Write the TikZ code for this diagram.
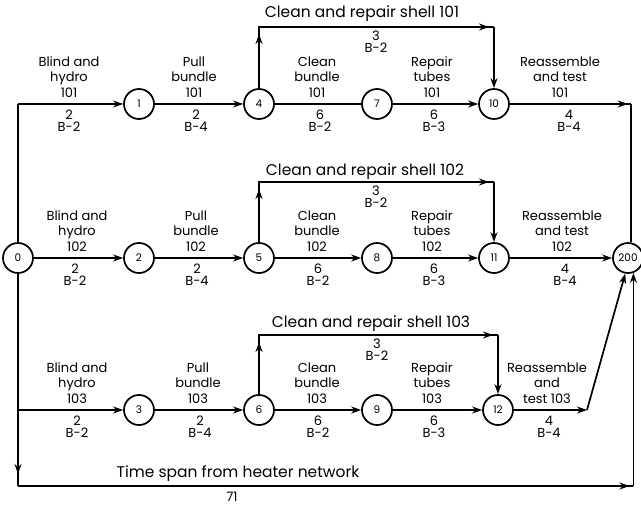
\documentclass[tikz,border=0pt]{standalone}
\usepackage{fontspec}
\setmainfont{Poppins}
\usetikzlibrary{arrows.meta}
\begin{document}
\begin{tikzpicture}[x=1pt,y=-1pt,
  line width=1.7pt,
  ev/.style={circle,draw,fill=white,minimum size=30pt,inner sep=0pt,font=\fontsize{10.5}{10.5}\selectfont},
  arr/.style={-{Stealth[length=10pt,width=7pt]}},
  up/.style={anchor=south,align=center,inner sep=0pt,text depth=0pt,font=\fontsize{13}{15.5}\selectfont},
  dn/.style={anchor=north,align=center,inner sep=0pt,font=\fontsize{13}{12.5}\selectfont},
  ttl/.style={anchor=base,inner sep=0pt,font=\fontsize{15.5}{16}\selectfont},
  ]
\useasboundingbox (0,0) rectangle (641,505);
% events
\node[ev] (n0) at (18,258) {0};
\node[ev] (n1) at (139,104) {1};
\node[ev] (n2) at (139,258) {2};
\node[ev] (n3) at (139,410) {3};
\node[ev] (n4) at (259,104) {4};
\node[ev] (n5) at (259,258) {5};
\node[ev] (n6) at (259,410) {6};
\node[ev] (n7) at (377,104) {7};
\node[ev] (n8) at (377,258) {8};
\node[ev] (n9) at (377,410) {9};
\node[ev] (n10) at (494,104) {10};
\node[ev] (n11) at (494,258) {11};
\node[ev] (n12) at (498,410) {12};
\node[ev] (n200) at (628,258) {200};
% helper coordinates
\coordinate (c1) at (18,104);
\coordinate (c3) at (18,410);
\coordinate (cb1) at (18,486);
\coordinate (cb2) at (n200.-70 |- cb1);
\coordinate (r1) at (n200.80 |- n10);
\coordinate (r3) at (587,410);
\coordinate (a4) at (259,27);
\coordinate (b10) at (494,27);
\coordinate (a5) at (259,182);
\coordinate (b11) at (494,182);
\coordinate (a6) at (259,335);
\coordinate (b12) at (498,335);
% left trunk
\draw (n0) -- (c1);
\draw[arr] (c1) -- (n1);
\draw[arr] (n0) -- (n2);
\draw (n0) -- (cb1);
\draw[arr] (c3) -- (n3);
\draw[arr,shorten >=12pt] (n0) -- (cb1);
\draw (cb1) -- (cb2);
\draw[arr,shorten >=4pt] (cb1) -- (cb2);
\draw[arr] (cb2) -- (n200.-70);
% row 1
\draw[arr] (n1) -- (n4);
\draw (n4) -- (n7);
\draw[arr] (n7) -- (n10);
\draw (n10) -- (r1);
\draw[arr,shorten >=3pt] (n10) -- (r1);
\draw (r1) -- (n200.80);
\draw (n4) -- (a4) -- (b10);
\draw[arr,shorten >=7pt] (n4) -- (a4);
\draw[arr,shorten >=5pt] (a4) -- (b10);
\draw[arr] (b10) -- (n10);
% row 2
\draw[arr] (n2) -- (n5);
\draw[arr] (n5) -- (n8);
\draw[arr] (n8) -- (n11);
\draw[arr] (n11) -- (n200);
\draw (n5) -- (a5) -- (b11);
\draw[arr,shorten >=7pt] (n5) -- (a5);
\draw[arr,shorten >=5pt] (a5) -- (b11);
\draw[arr] (b11) -- (n11);
% row 3
\draw[arr] (n3) -- (n6);
\draw[arr] (n6) -- (n9);
\draw[arr] (n9) -- (n12);
\draw[arr] (n12) -- (r3);
\draw[arr] (r3) -- (n200.-100);
\draw (n6) -- (a6) -- (b12);
\draw[arr,shorten >=7pt] (n6) -- (a6);
\draw[arr,shorten >=5pt] (a6) -- (b12);
\draw[arr] (b12) -- (n12);
% labels row 1
\node[up] (u01) at (69,98) {Blind and\\hydro\\101};
\node[dn] (d01) at (69,109) {2\\B-2};
\node[up] (u14) at (194,98) {Pull\\bundle\\101};
\node[dn] (d14) at (196,109) {2\\B-4};
\node[up] (u47) at (317,98) {Clean\\bundle\\101};
\node[dn] (d47) at (320,109) {6\\B-2};
\node[up] (u710) at (432,98) {Repair\\tubes\\101};
\node[dn] (d710) at (434,109) {6\\B-3};
\node[up] (u10) at (560,98) {Reassemble\\and test\\101};
\node[dn] (d10) at (569,109) {4\\B-4};
\node[ttl] (s1) at (362,17.5) {Clean and repair shell 101};
\node[dn] (t1) at (376,30) {3\\B-2};
% labels row 2
\node[up] (u02) at (77,252) {Blind and\\hydro\\102};
\node[dn] (d02) at (75,263) {2\\B-2};
\node[up] (u25) at (196,252) {Pull\\bundle\\102};
\node[dn] (d25) at (197,263) {2\\B-4};
\node[up] (u58) at (317,252) {Clean\\bundle\\102};
\node[dn] (d58) at (318,263) {6\\B-2};
\node[up] (u811) at (432,252) {Repair\\tubes\\102};
\node[dn] (d811) at (434,263) {6\\B-3};
\node[up] (u11) at (562,252) {Reassemble\\and test\\102};
\node[dn] (d11) at (565,263) {4\\B-4};
\node[ttl] (s2) at (365,175.5) {Clean and repair shell 102};
\node[dn] (t2) at (376,185) {3\\B-2};
% labels row 3
\node[up] (u03) at (77,404) {Blind and\\hydro\\103};
\node[dn] (d03) at (77,415) {2\\B-2};
\node[up] (u36) at (198,404) {Pull\\bundle\\103};
\node[dn] (d36) at (200,415) {2\\B-4};
\node[up] (u69) at (317,404) {Clean\\bundle\\103};
\node[dn] (d69) at (318,415) {6\\B-2};
\node[up] (u912) at (432,404) {Repair\\tubes\\103};
\node[dn] (d912) at (434,415) {6\\B-3};
\node[up] (u12) at (547,404) {Reassemble\\and\\test 103};
\node[dn] (d12) at (549,415) {4\\B-4};
\node[ttl] (s3) at (371,327.5) {Clean and repair shell 103};
\node[dn] (t3) at (377,338) {3\\B-2};
% time span
\node[ttl] (ts) at (238,477.5) {Time span from heater network};
\node[dn] (tv) at (232,491) {71};
\end{tikzpicture}
\end{document}
